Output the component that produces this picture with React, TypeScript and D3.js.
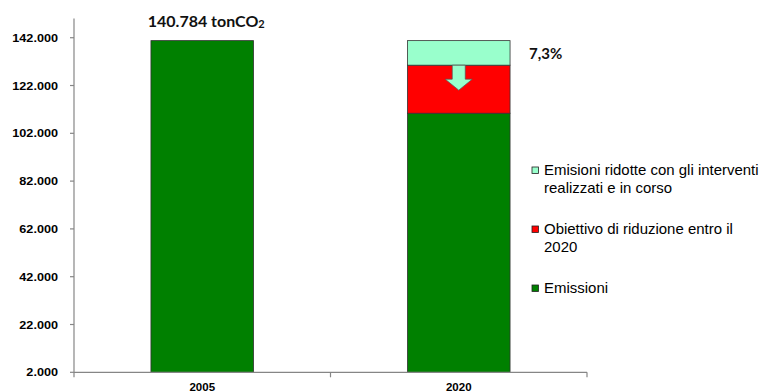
import React from "react";
import * as d3 from "d3";

// Emission data (tonCO2) per reference year
const years = ["2005", "2020"];
const emissioni = [140784, 110400];
const obiettivo = [0, 20107];
const ridotte = [0, 10277];

const yTicks = [2000, 22000, 42000, 62000, 82000, 102000, 122000, 142000];

const seriesKeys = ["emissioni", "obiettivo", "ridotte"];
const seriesLabels = [
  ["Emissioni"],
  ["Obiettivo di riduzione entro il", "2020"],
  ["Emisioni ridotte con gli interventi", "realizzati e in corso"],
];
const seriesColors = ["#008000", "#FF0000", "#99FFCC"];

const W = 760;
const H = 392;

const it = d3.formatLocale({ decimal: ",", thousands: ".", grouping: [3], currency: ["€", ""] });
const fmtInt = it.format(",.0f");
const fmtPct = it.format(".1f");

const sans = "'Liberation Sans', Arial, sans-serif";
const labelFont = "Lato, 'Open Sans', sans-serif";

export default function App() {
  const rows = years.map((y, i) => ({
    year: y,
    emissioni: emissioni[i],
    obiettivo: obiettivo[i],
    ridotte: ridotte[i],
  }));
  const stacked = d3.stack<any>().keys(seriesKeys)(rows);

  const x = d3.scaleBand().domain(years).range([74, 587]).paddingInner(0.6).paddingOuter(0.3);
  const y = d3.scaleLinear().domain([2000, 150000]).range([372.3, 18.6]);
  const step = x.step();
  const bw = x.bandwidth();
  const axisColor = "#868686";
  const yBase = y(2000);

  const total2005 = emissioni[0] + obiettivo[0] + ridotte[0];
  const cx2005 = x("2005")! + bw / 2;
  const x2020 = x("2020")!;
  const cx2020 = x2020 + bw / 2;
  const top2020 = emissioni[1] + obiettivo[1] + ridotte[1];
  const pct = (ridotte[1] / total2005) * 100;

  // down arrow from the top of the red segment
  const arrowTop = y(emissioni[1] + obiettivo[1]);
  const arrowTip = arrowTop + 25;
  const shaftW = 13;
  const headW = 27;
  const headH = 11;
  const arrowPath = [
    [cx2020 - shaftW / 2, arrowTop],
    [cx2020 + shaftW / 2, arrowTop],
    [cx2020 + shaftW / 2, arrowTip - headH],
    [cx2020 + headW / 2, arrowTip - headH],
    [cx2020, arrowTip],
    [cx2020 - headW / 2, arrowTip - headH],
    [cx2020 - shaftW / 2, arrowTip - headH],
  ];

  const legendOrder = [2, 1, 0];
  const legendY = [170, 229, 288];

  return (
    <svg
      width={W}
      height={H}
      style={{ position: "absolute", left: 0, top: 0, background: "#fff" }}
    >
      {/* bars */}
      {stacked.map((s, si) =>
        s.map((d, i) => {
          const v0 = Math.max(d[0], 2000);
          const v1 = d[1];
          if (v1 - d[0] <= 0) return null;
          return (
            <rect
              key={`${si}-${i}`}
              x={x(years[i])}
              y={y(v1)}
              width={bw}
              height={y(v0) - y(v1)}
              fill={seriesColors[si]}
              stroke="#333"
              strokeWidth={0.8}
            />
          );
        })
      )}

      {/* arrow */}
      <path
        d={"M" + arrowPath.map((p) => p.join(",")).join("L") + "Z"}
        fill={seriesColors[2]}
        stroke="#555"
        strokeWidth={0.7}
      />

      {/* y axis */}
      <line x1={74} x2={74} y1={y(150000)} y2={yBase} stroke={axisColor} strokeWidth={1.2} />
      {yTicks.map((t) => (
        <g key={t}>
          <line x1={70} x2={74} y1={y(t)} y2={y(t)} stroke={axisColor} strokeWidth={1.2} />
          <text
            transform={`translate(58,${y(t)}) scale(1.1,1)`}
            dy="0.36em"
            textAnchor="end"
            fontFamily={sans}
            fontWeight="bold"
            fontSize={11.5}
            fill="#000"
          >
            {fmtInt(t)}
          </text>
        </g>
      ))}

      {/* x axis */}
      <line x1={74} x2={587} y1={yBase} y2={yBase} stroke={axisColor} strokeWidth={1.2} />
      {[0, 1, 2].map((k) => (
        <line
          key={k}
          x1={74 + k * step}
          x2={74 + k * step}
          y1={yBase}
          y2={yBase + 5}
          stroke={axisColor}
          strokeWidth={1.2}
        />
      ))}
      {years.map((yr) => (
        <text
          key={yr}
          x={x(yr)! + bw / 2}
          y={391}
          textAnchor="middle"
          fontFamily={sans}
          fontWeight="bold"
          fontSize={11.5}
          fill="#000"
        >
          {yr}
        </text>
      ))}

      {/* value labels */}
      <text
        x={cx2005 + 4}
        y={y(total2005) - 14}
        textAnchor="middle"
        fontFamily={labelFont}
        fontWeight="bold"
        fontSize={16}
        fill="#111"
      >
        {fmtInt(total2005)} tonCO
        <tspan fontSize={11} dy={1}>2</tspan>
      </text>
      <text
        x={x2020 + bw + 19}
        y={y(top2020) + 18.5}
        fontFamily={labelFont}
        fontWeight="bold"
        fontSize={15}
        fill="#111"
      >
        {fmtPct(pct)}%
      </text>

      {/* legend */}
      {legendOrder.map((si, li) => (
        <g key={si}>
          <rect
            x={532}
            y={legendY[li] - 3}
            width={6.5}
            height={6.5}
            fill={seriesColors[si]}
            stroke="#222"
            strokeWidth={0.8}
          />
          {seriesLabels[si].map((line, j) => (
            <text
              key={j}
              transform={`translate(544,${legendY[li] + j * 18}) scale(1.07,1)`}
              dy="0.36em"
              fontFamily={sans}
              fontSize={14}
              fill="#000"
            >
              {line}
            </text>
          ))}
        </g>
      ))}
    </svg>
  );
}
